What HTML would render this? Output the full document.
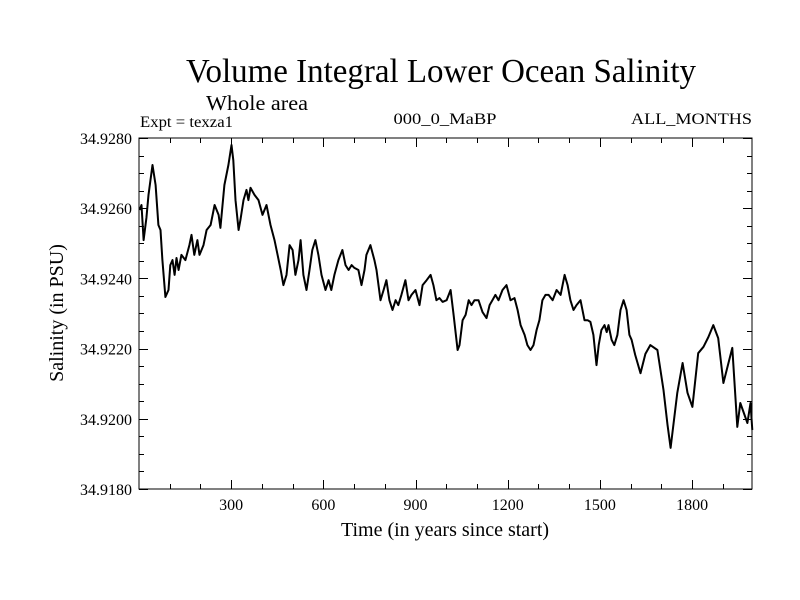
<!DOCTYPE html>
<html><head><meta charset="utf-8"><style>
body{margin:0;background:#fff;}
svg{display:block;font-family:"Liberation Serif",serif;}
</style></head><body>
<svg id="chart" width="800" height="600" viewBox="0 0 800 600">
<rect width="800" height="600" fill="#fff"/>
<text x="441" y="82" font-size="34" text-anchor="middle" textLength="510" lengthAdjust="spacingAndGlyphs">Volume Integral Lower Ocean Salinity</text>
<text x="206" y="110" font-size="21" textLength="102" lengthAdjust="spacingAndGlyphs">Whole area</text>
<text x="140" y="127" font-size="16" textLength="93" lengthAdjust="spacingAndGlyphs">Expt = texza1</text>
<text x="445" y="124" font-size="16" text-anchor="middle" textLength="103" lengthAdjust="spacingAndGlyphs">000_0_MaBP</text>
<text x="752" y="124" font-size="16" text-anchor="end" textLength="121" lengthAdjust="spacingAndGlyphs">ALL_MONTHS</text>
<g id="axes"></g>
<path id="series" fill="none" stroke="#000" stroke-width="2" stroke-linejoin="round"/>
<rect x="139" y="138" width="613" height="351" fill="none" stroke="#000" stroke-width="1"/>
<text x="445" y="536" font-size="20" text-anchor="middle">Time (in years since start)</text>
<text transform="translate(63,313) rotate(-90)" font-size="20" text-anchor="middle">Salinity (in PSU)</text>
</svg>
<script>
const years=[2,8,15,24,31,44,54,63,70,76,86,96,102,109,116,122,129,138,151,164,171,180,190,197,210,220,233,246,259,265,278,291,301,307,314,324,330,340,350,356,363,376,389,402,415,428,441,451,461,470,480,490,500,509,519,526,535,545,555,564,574,584,594,607,617,626,636,649,662,672,682,692,701,714,724,734,740,753,766,773,786,796,805,815,825,835,844,854,867,877,887,900,913,923,936,949,958,968,978,988,1001,1014,1024,1037,1043,1053,1063,1073,1082,1092,1105,1118,1131,1141,1150,1160,1170,1183,1196,1209,1222,1232,1242,1255,1264,1274,1284,1294,1303,1313,1323,1333,1346,1359,1372,1385,1395,1404,1414,1424,1437,1450,1460,1469,1479,1489,1496,1505,1515,1522,1528,1538,1547,1557,1567,1577,1587,1596,1603,1615,1632,1648,1664,1687,1707,1720,1730,1752,1769,1785,1801,1820,1837,1853,1869,1885,1902,1931,1947,1957,1980,1990,1996];
const salinity=[34.92595,34.92609,34.92509,34.92572,34.92638,34.92723,34.92666,34.92552,34.92538,34.92452,34.92347,34.92367,34.92438,34.92452,34.9241,34.92458,34.92424,34.92467,34.92452,34.92495,34.92524,34.92467,34.92509,34.92467,34.92495,34.92538,34.92552,34.92609,34.92581,34.92544,34.92666,34.92723,34.9278,34.92737,34.92623,34.92538,34.92566,34.92623,34.92652,34.92623,34.92658,34.92638,34.92623,34.92581,34.92609,34.92552,34.92509,34.92467,34.92424,34.92381,34.9241,34.92495,34.92481,34.9241,34.92452,34.92509,34.9241,34.92367,34.92424,34.92481,34.92509,34.92467,34.9241,34.92367,34.92395,34.92367,34.9241,34.92452,34.92481,34.92438,34.92424,34.92438,34.9243,34.92424,34.92381,34.92424,34.92467,34.92495,34.92452,34.92424,34.92338,34.92367,34.92395,34.92338,34.9231,34.92338,34.92324,34.92353,34.92395,34.92338,34.92353,34.92367,34.92324,34.92381,34.92395,34.9241,34.92381,34.92338,34.92344,34.92333,34.92338,34.92367,34.92296,34.92196,34.9221,34.92281,34.92296,34.92338,34.92324,34.92338,34.92338,34.92304,34.92287,34.92324,34.92338,34.92353,34.92338,34.92367,34.92381,34.92338,34.92344,34.9231,34.92267,34.92239,34.9221,34.92196,34.9221,34.92253,34.92281,34.92338,34.92353,34.92353,34.92338,34.92367,34.92353,34.9241,34.92381,34.92338,34.9231,34.92324,34.92338,34.92281,34.92281,34.92276,34.92239,34.92153,34.9221,34.92253,34.92267,34.92247,34.92267,34.92225,34.9221,34.92239,34.9231,34.92338,34.9231,34.92239,34.92225,34.92182,34.9213,34.92185,34.9221,34.92196,34.92082,34.91983,34.91917,34.92074,34.92159,34.92074,34.92034,34.92187,34.92205,34.92233,34.92267,34.9223,34.92102,34.92202,34.91977,34.92045,34.91988,34.92045,34.91968];
const xTickValues=[300,600,900,1200,1500,1800];
const yTickLabels=["34.9180","34.9200","34.9220","34.9240","34.9260","34.9280"];
const X0=139,X1=752,Y0=489,Y1=138,XMIN=0,XMAX=1995,YMIN=34.918,YMAX=34.928;
function xs(v){return X0+(v-XMIN)/(XMAX-XMIN)*(X1-X0);}
function ys(v){return Y0-(v-YMIN)/(YMAX-YMIN)*(Y0-Y1);}
const NS="http://www.w3.org/2000/svg";
const axes=document.getElementById('axes');
function line(x1,y1,x2,y2,name){const l=document.createElementNS(NS,'line');l.setAttribute('x1',x1);l.setAttribute('y1',y1);l.setAttribute('x2',x2);l.setAttribute('y2',y2);l.setAttribute('stroke','#000');l.setAttribute('stroke-width','1');


axes.appendChild(l);}
function txt(x,y,s,anchor,name){const t=document.createElementNS(NS,'text');t.setAttribute('x',x);t.setAttribute('y',y);t.setAttribute('font-size','16');t.setAttribute('text-anchor',anchor);t.textContent=s;


axes.appendChild(t);}
for(let v=100;v<XMAX;v+=100){const x=Math.round(xs(v))+0.5;const len=(v%300===0)?9:5;line(x,Y0,x,Y0-len,'x-tick');line(x,Y1,x,Y1+len,'x-tick-top');}
xTickValues.forEach(v=>txt(xs(v),510,String(v),'middle','x-tick-label'));
for(let i=0;i<=20;i++){const v=YMIN+i*0.0005;const y=Math.round(ys(v))+0.5;const len=(i%4===0)?9:5;line(X0,y,X0+len,y,'y-tick');line(X1,y,X1-len,y,'y-tick-right');}
yTickLabels.forEach(s=>txt(132,ys(parseFloat(s))+6,s,'end','y-tick-label'));
let d='';years.forEach((yr,i)=>{d+=(i?'L':'M')+xs(yr).toFixed(1)+','+ys(salinity[i]).toFixed(1);});
document.getElementById('series').setAttribute('d',d);
</script>
</body></html>
